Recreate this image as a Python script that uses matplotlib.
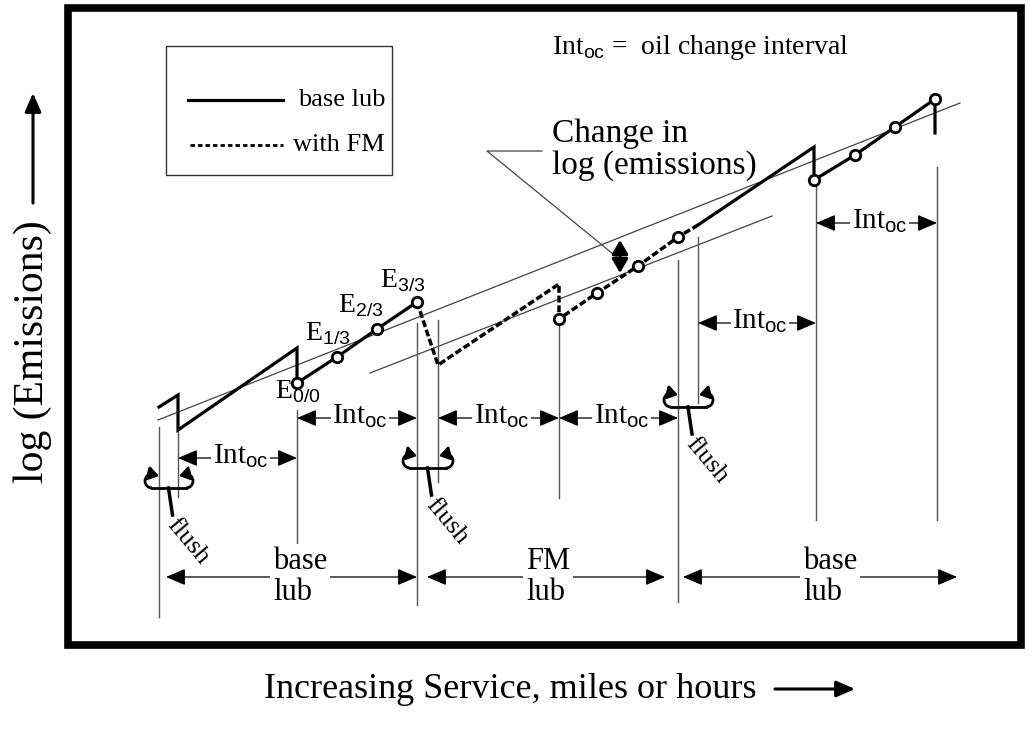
import matplotlib.pyplot as plt
from matplotlib.patches import FancyArrowPatch, Rectangle, Arc

plt.rcParams['font.family'] = 'Liberation Serif'
plt.rcParams['mathtext.fontset'] = 'custom'
plt.rcParams['mathtext.rm'] = 'Liberation Serif'
plt.rcParams['mathtext.sf'] = 'Liberation Sans'

# schematic values (service on x, log emissions on y, arbitrary units)
base1_x = [159, 178, 178, 297, 297, 337, 377, 417]
base1_y = [327, 339, 304, 386, 351, 377, 405, 432]
base1_pts = [4, 5, 6, 7]

fm_x = [417, 438, 559, 559, 597, 638, 678, 698]
fm_y = [432, 369, 450, 415, 441, 468, 497, 509]
fm_pts = [3, 4, 5, 6]

base2_x = [698, 814, 814, 855, 895, 935, 935]
base2_y = [509, 587, 554, 579, 607, 635, 601]
base2_pts = [2, 3, 4, 5]

trend_hi_x = [158, 960]
trend_hi_y = [314, 631]
trend_lo_x = [370, 772]
trend_lo_y = [361, 518]

# vertical marker lines: x, top, bottom
vlines_x = [159, 178, 297, 417, 438, 559, 678, 698, 816, 937]
vlines_top = [307, 304, 324, 411, 414, 415, 474, 497, 554, 567]
vlines_bot = [117, 237, 191, 129, 252, 236, 132, 331, 214, 214]

# oil change interval dimension arrows
int_x0 = [178, 297, 438, 559, 698, 816]
int_x1 = [297, 417, 559, 678, 816, 937]
int_y = [276, 316, 316, 316, 411, 511]

# lubricant spans
span_x0 = [166, 427, 683]
span_x1 = [417, 665, 957]
span_labels = ['base\nlub', 'FM\nlub', 'base\nlub']
span_text_x = [273, 526, 803]
span_y = 157

# flush points (left line, right line, height)
flush_l = [159, 417, 678]
flush_r = [178, 438, 698]
flush_y = [246, 266, 327]

e_labels = ['0/0', '1/3', '2/3', '3/3']
e_x = [275, 305, 338, 380]
e_y = [336, 394, 422, 447]

fig = plt.figure(figsize=(10.29, 7.34), dpi=100)
ax = fig.add_axes([0, 0, 1, 1])
ax.set_xlim(0, 1029)
ax.set_ylim(0, 734)
ax.axis('off')

# frame
ax.add_patch(Rectangle((68, 89), 953, 637, fill=False, lw=5.5, ec='black', zorder=10))

# trend lines
ax.plot(trend_hi_x, trend_hi_y, color='#444444', lw=0.9)
ax.plot(trend_lo_x, trend_lo_y, color='#444444', lw=0.9)

for x, t, b in zip(vlines_x, vlines_top, vlines_bot):
    ax.plot([x, x], [b, t], color='#555555', lw=1.0)

# emission curves
ax.plot(base1_x, base1_y, color='black', lw=2.3, solid_joinstyle='miter', zorder=4)
ax.plot(fm_x, fm_y, color='black', lw=2.5, linestyle=(0, (2, 0.8)), zorder=4)
ax.plot(base2_x, base2_y, color='black', lw=2.3, solid_joinstyle='miter', zorder=4)
for xs, ys, idx in [(base1_x, base1_y, base1_pts), (fm_x, fm_y, fm_pts), (base2_x, base2_y, base2_pts)]:
    ax.plot([xs[i] for i in idx], [ys[i] for i in idx], 'o', ms=7.5, mfc='white',
            mec='black', mew=2, zorder=6)

# E labels
for lab, x, y in zip(e_labels, e_x, e_y):
    ax.text(x, y, r'$\mathrm{E}_{\mathsf{' + lab + '}}$', fontsize=20, ha='left', va='baseline')


def dim_arrow(x0, x1, y, lw=0.9, ms=16):
    a = FancyArrowPatch((x0, y), (x1, y), arrowstyle='<|-|>,head_length=0.75,head_width=0.32',
                        mutation_scale=ms, lw=lw, color='black', shrinkA=0, shrinkB=0, zorder=3)
    ax.add_patch(a)


for x0, x1, y in zip(int_x0, int_x1, int_y):
    dim_arrow(x0, x1, y)
    ax.text((x0 + x1) / 2 + 3, y + 2, r'$\mathrm{Int}_{\mathsf{oc}}$', fontsize=21,
            ha='center', va='center', zorder=5,
            bbox=dict(fc='white', ec='none', pad=1))

for x0, x1, lab, tx in zip(span_x0, span_x1, span_labels, span_text_x):
    dim_arrow(x0, x1, span_y)
    ax.text(tx, span_y, lab, fontsize=22, ha='left', va='center', linespacing=1.1,
            zorder=5, bbox=dict(fc='white', ec='none', pad=2))

# flush symbols
for xl, xr, y in zip(flush_l, flush_r, flush_y):
    a, b = xl - 11, xr + 12
    ax.plot([a + 4, b - 4], [y, y], color='black', lw=2, zorder=5)
    ax.add_patch(Arc((a + 4, y + 7), 14, 14, theta1=90, theta2=270, lw=2, color='black', zorder=5))
    ax.add_patch(Arc((b - 4, y + 7), 14, 14, theta1=-90, theta2=90, lw=2, color='black', zorder=5))
    ax.add_patch(FancyArrowPatch((a + 3, y + 14), (a + 11, y + 12),
                                 arrowstyle='-|>,head_length=0.6,head_width=0.4',
                                 mutation_scale=10, lw=2, color='black', shrinkA=0, shrinkB=0, zorder=5))
    ax.add_patch(FancyArrowPatch((b - 3, y + 14), (b - 11, y + 12),
                                 arrowstyle='-|>,head_length=0.6,head_width=0.4',
                                 mutation_scale=10, lw=2, color='black', shrinkA=0, shrinkB=0, zorder=5))
    m = (xl + xr) / 2
    ax.plot([m, m + 4], [y, y - 27], color='black', lw=2.5, zorder=5)
    ax.text(m + 19, y - 53, 'flush', fontsize=19, rotation=-50, ha='center', va='center')

# change in log(emissions)
ax.add_patch(FancyArrowPatch((620, 461), (620, 494), arrowstyle='<|-|>,head_length=0.6,head_width=0.35',
                             mutation_scale=14, lw=2.2, color='black', shrinkA=0, shrinkB=0, zorder=6))
ax.plot([542, 487, 618], [583, 583, 476], color='#444444', lw=0.9)
ax.text(552, 584, 'Change in\nlog (emissions)', fontsize=24, ha='left', va='center', linespacing=1.05)

ax.text(552, 687, r'$\mathrm{Int}_{\mathsf{oc}}$ =  oil change interval', fontsize=20,
        ha='left', va='center')

# legend box
ax.add_patch(Rectangle((166, 559), 226, 129, fill=False, lw=1.0, ec='#333333'))
ax.plot([188, 283], [634, 634], color='black', lw=2.3)
ax.plot([190, 283], [589, 589], color='black', lw=2, linestyle=(0, (1.6, 1.1)))
ax.text(298, 634, 'base lub', fontsize=19, ha='left', va='center')
ax.text(293, 589, 'with FM', fontsize=19, ha='left', va='center')

# axis labels
ax.text(33, 382, 'log (Emissions)', fontsize=30, rotation=90, ha='center', va='center')
ax.add_patch(FancyArrowPatch((33, 531), (33, 641), arrowstyle='-|>,head_length=0.8,head_width=0.35',
                             mutation_scale=14, lw=2.2, color='black', shrinkA=0, shrinkB=0))
ax.text(757, 44, 'Increasing Service, miles or hours', fontsize=26, ha='right', va='center')
ax.add_patch(FancyArrowPatch((775, 45), (855, 45), arrowstyle='-|>,head_length=0.8,head_width=0.35',
                             mutation_scale=14, lw=2.2, color='black', shrinkA=0, shrinkB=0))

fig.savefig('out.png', dpi=100)
